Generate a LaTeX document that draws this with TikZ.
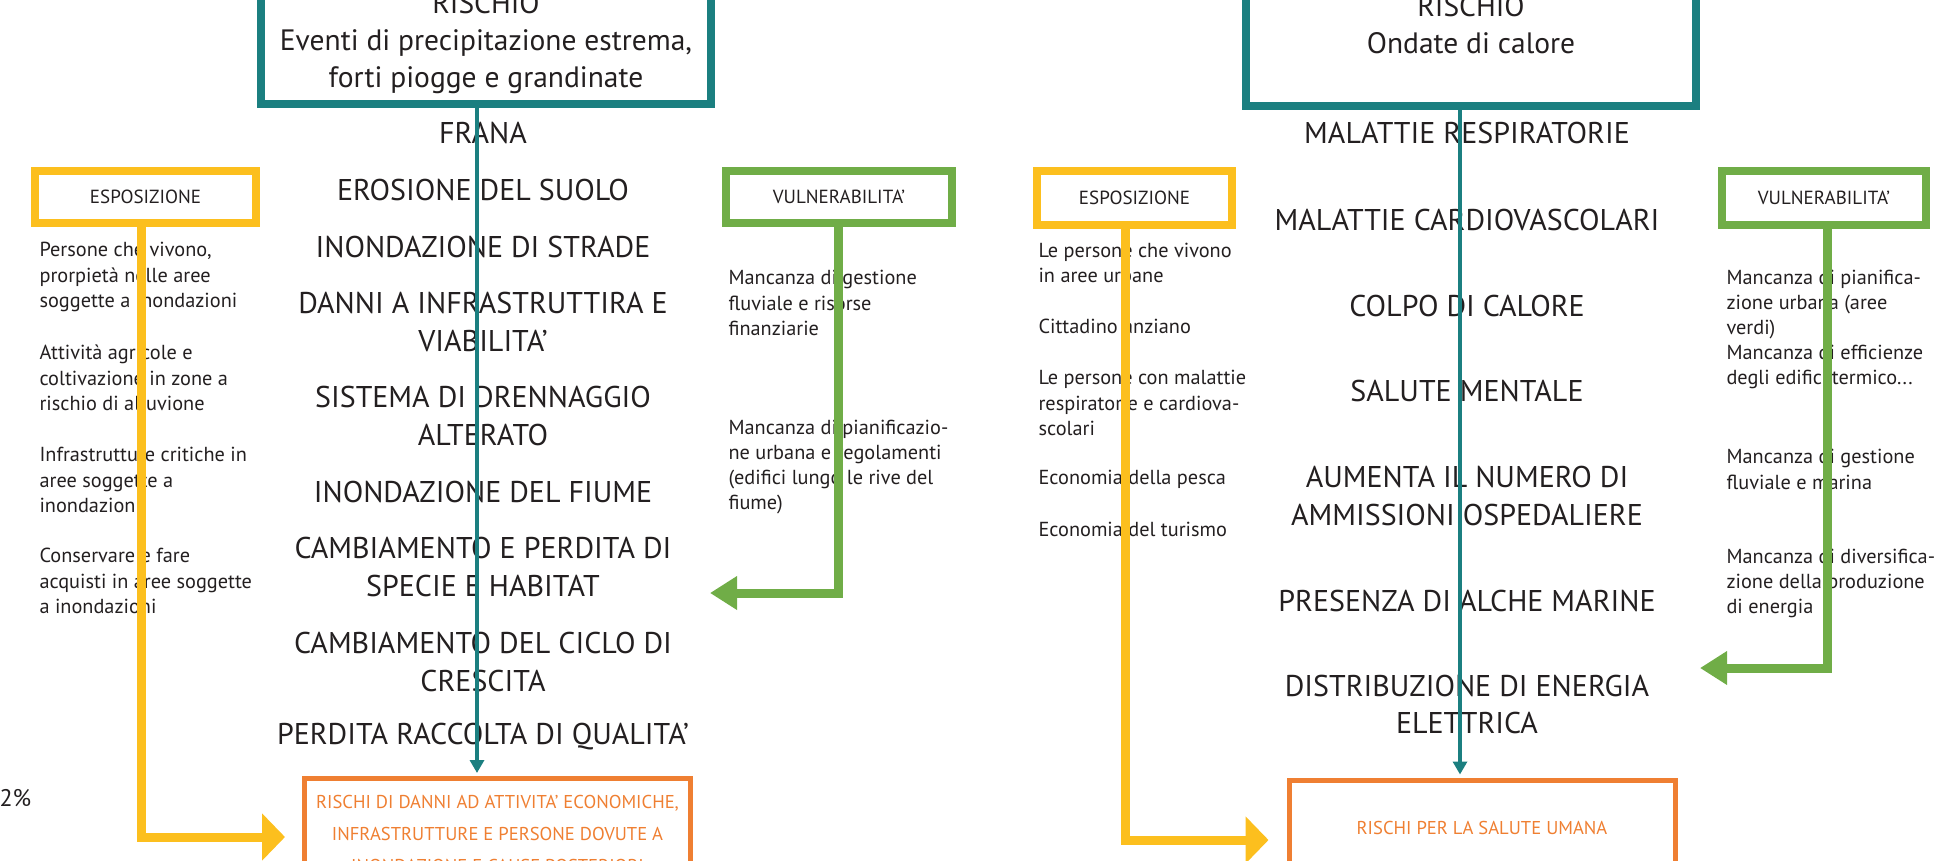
\documentclass[tikz,border=0pt]{standalone}
\usepackage{fontspec}
\setmainfont{PT Sans}
\usepackage{tikz}
\usetikzlibrary{arrows.meta}
\definecolor{riskteal}{RGB}{27,127,128}
\definecolor{expoyellow}{RGB}{252,191,30}
\definecolor{vulngreen}{RGB}{112,173,71}
\definecolor{impactorange}{RGB}{239,127,50}
\definecolor{txtgray}{RGB}{35,31,32}

\begin{document}
\begin{tikzpicture}[x=1pt,y=-1pt,
    every node/.style={text=txtgray},
    riskbox/.style={draw=riskteal, line width=8pt, minimum width=450pt, align=center, font=\fontsize{29.5}{37}\selectfont},
    effect/.style={align=center, font=\fontsize{30}{37.5}\selectfont},
    tagbox/.style={line width=8pt, font=\fontsize{19}{22}\selectfont},
    note/.style={anchor=west, align=left, font=\fontsize{20.3}{25.2}\selectfont},
    impact/.style={draw=impactorange, line width=5pt, minimum width=386pt, text=impactorange, align=center, font=\fontsize{18.6}{32}\selectfont},
    flow/.style={draw=riskteal, line width=4pt, -{Triangle[length=13pt,width=14pt]}, shorten >=3pt},
    expo/.style={draw=expoyellow, line width=9pt, -{Triangle[length=23pt,width=46pt]}},
    vuln/.style={draw=vulngreen, line width=9pt, -{Triangle[length=27pt,width=32pt]}},
    ]
    \clip (0,0) rectangle (1941,860);

    % left: precipitazioni
    \node[riskbox, minimum height=122pt] (riskL) at (486,43) {RISCHIO\\Eventi di precipitazione estrema,\\forti piogge e grandinate};
    \node[tagbox, draw=expoyellow, minimum width=221pt, minimum height=52pt] (expL) at (145.5,197) {ESPOSIZIONE};
    \node[tagbox, draw=vulngreen, minimum width=226pt, minimum height=52pt] (vulL) at (839,197) {VULNERABILITA’};

    \node[effect] (effL1) at (483,133) {FRANA};
    \node[effect] (effL2) at (483,190) {EROSIONE DEL SUOLO};
    \node[effect] (effL3) at (483,247) {INONDAZIONE DI STRADE};
    \node[effect] (effL4) at (483,322) {DANNI A INFRASTRUTTIRA E\\VIABILITA’};
    \node[effect] (effL5) at (483,416) {SISTEMA DI DRENNAGGIO\\ALTERATO};
    \node[effect] (effL6) at (483,492) {INONDAZIONE DEL FIUME};
    \node[effect] (effL7) at (483,567) {CAMBIAMENTO E PERDITA DI\\SPECIE E HABITAT};
    \node[effect] (effL8) at (483,662) {CAMBIAMENTO DEL CICLO DI\\CRESCITA};
    \node[effect] (effL9) at (483,737) {PERDITA RACCOLTA DI QUALITA’};

    \node[note] (expL1) at (36,277) {Persone che vivono,\\prorpietà nelle aree\\soggette a inondazioni};
    \node[note] (expL2) at (36,378) {Attività agricole e\\coltivazione in zone a\\rischio di alluvione};
    \node[note] (expL3) at (36,480) {Infrastrutture critiche in\\aree soggette a\\inondazioni};
    \node[note] (expL4) at (36,581) {Conservare e fare\\acquisti in aree soggette\\a inondazioni};

    \node[note] (vulL1) at (725,303) {Mancanza di gestione\\fluviale e risorse\\finanziarie};
    \node[note] (vulL2) at (725,467) {Mancanza di pianificazio-\\ne urbana e regolamenti\\(edifici lungo le rive del\\fiume)};

    \node[impact, minimum height=111pt] (impL) at (497.5,834) {RISCHI DI DANNI AD ATTIVITA’ ECONOMICHE,\\INFRASTRUTTURE E PERSONE DOVUTE A\\INONDAZIONE E CAUSE POSTERIORI};
    \node[anchor=west, font=\fontsize{24}{28}\selectfont] (pct) at (-4,798) {2\%};

    % right: ondate di calore
    \node[riskbox, minimum height=162pt] (riskR) at (1471,25) {RISCHIO\\Ondate di calore};
    \node[tagbox, draw=expoyellow, minimum width=195pt, minimum height=54pt] (expR) at (1134.5,198) {ESPOSIZIONE};
    \node[tagbox, draw=vulngreen, minimum width=204pt, minimum height=54pt] (vulR) at (1824,198) {VULNERABILITA’};

    \node[effect] (effR1) at (1467,133) {MALATTIE RESPIRATORIE};
    \node[effect] (effR2) at (1467,220) {MALATTIE CARDIOVASCOLARI};
    \node[effect] (effR3) at (1467,306) {COLPO DI CALORE};
    \node[effect] (effR4) at (1467,391) {SALUTE MENTALE};
    \node[effect] (effR5) at (1467,496) {AUMENTA IL NUMERO DI\\AMMISSIONI OSPEDALIERE};
    \node[effect] (effR6) at (1467,601) {PRESENZA DI ALCHE MARINE};
    \node[effect] (effR7) at (1467,704.5) {DISTRIBUZIONE DI ENERGIA\\ELETTRICA};

    \node[note] (expR1) at (1035,263) {Le persone che vivono\\in aree urbane};
    \node[note] (expR2) at (1035,326) {Cittadino anziano};
    \node[note] (expR3) at (1035,403) {Le persone con malattie\\respiratorie e cardiova-\\scolari};
    \node[note] (expR4) at (1035,479) {Economia della pesca};
    \node[note] (expR5) at (1035,529) {Economia del turismo};

    \node[note] (vulR1) at (1723,329.5) {Mancanza di pianifica-\\zione urbana (aree\\verdi)\\Mancanza di efficienze\\degli edifici:termico...};
    \node[note] (vulR2) at (1723,469.5) {Mancanza di gestione\\fluviale e marina};
    \node[note] (vulR3) at (1723,583.5) {Mancanza di diversifica-\\zione della produzione\\di energia};

    \node[impact, minimum height=96pt] (impR) at (1482,828) {RISCHI PER LA SALUTE UMANA};

    % connectors
    \coordinate (axL) at (477,0);
    \coordinate (axR) at (1460,0);
    \coordinate (vlEnd) at (710,593);
    \coordinate (vrEnd) at (1700,668);
    \draw[flow] (axL |- riskL.south) -- (axL |- impL.north);
    \draw[flow] (axR |- riskR.south) -- (axR |- impR.north);
    \draw[expo] ([xshift=-4.5pt]expL.south) |- ([xshift=-17pt,yshift=-3pt]impL.west);
    \draw[expo] ([xshift=-9.5pt]expR.south) |- ([xshift=-18pt,yshift=-12pt]impR.west);
    \draw[vuln] ([xshift=-1pt]vulL.south) |- (vlEnd);
    \draw[vuln] ([xshift=3pt]vulR.south) |- (vrEnd);
\end{tikzpicture}
\end{document}
